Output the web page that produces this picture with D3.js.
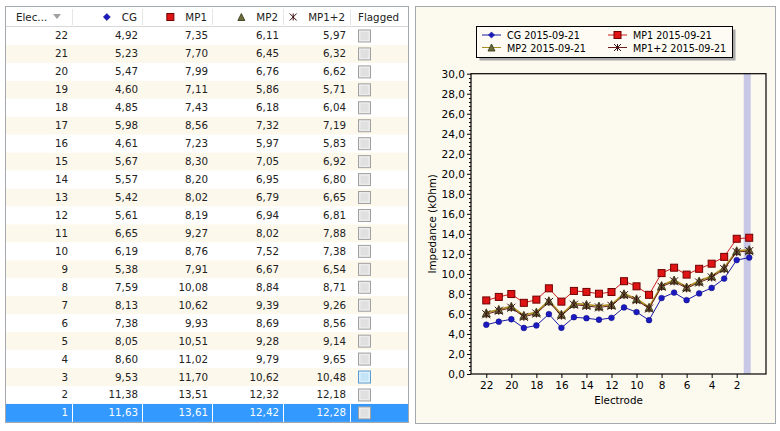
<!DOCTYPE html>
<html><head><meta charset="utf-8">
<script src="https://cdn.jsdelivr.net/npm/d3@7/dist/d3.min.js"></script>
<style>
html,body{margin:0;padding:0;background:#fff;}
text{font-family:"DejaVu Sans",sans-serif;font-size:10.3px;}
</style></head>
<body><svg id="c" width="780" height="431"></svg>
<script>
const electrodes = [22,21,20,19,18,17,16,15,14,13,12,11,10,9,8,7,6,5,4,3,2,1];
const cg   = [4.92,5.23,5.47,4.60,4.85,5.98,4.61,5.67,5.57,5.42,5.61,6.65,6.19,5.38,7.59,8.13,7.38,8.05,8.60,9.53,11.38,11.63];
const mp1  = [7.35,7.70,7.99,7.11,7.43,8.56,7.23,8.30,8.20,8.02,8.19,9.27,8.76,7.91,10.08,10.62,9.93,10.51,11.02,11.70,13.51,13.61];
const mp2  = [6.11,6.45,6.76,5.86,6.18,7.32,5.97,7.05,6.95,6.79,6.94,8.02,7.52,6.67,8.84,9.39,8.69,9.28,9.79,10.62,12.32,12.42];
const mp12 = [5.97,6.32,6.62,5.71,6.04,7.19,5.83,6.92,6.80,6.65,6.81,7.88,7.38,6.54,8.71,9.26,8.56,9.14,9.65,10.48,12.18,12.28];
const columns = ["Elec...","CG","MP1","MP2","MP1+2","Flagged"];
const legendLabels = ["CG 2015-09-21","MP1 2015-09-21","MP2 2015-09-21","MP1+2 2015-09-21"];
const xTicks = [22,20,18,16,14,12,10,8,6,4,2];
const yTicks = [0,2,4,6,8,10,12,14,16,18,20,22,24,26,28,30];
const selectedElectrode = 1;
const hoverCheckElectrode = 3;

const svg = d3.select("#c");
const fmt = v => v.toFixed(2).replace(".", ",");
const fmt1 = v => v.toFixed(1).replace(".", ",");

const series = [
  {key:"CG", vals:cg, line:"#1a1aa6", fill:"#1a1ac0", stroke:"#10107a", shape:"circle"},
  {key:"MP1", vals:mp1, line:"#cc1c1c", fill:"#e01414", stroke:"#700000", shape:"square"},
  {key:"MP2", vals:mp2, line:"#a89020", fill:"#6e6e3c", stroke:"#2e2e10", shape:"triangle"},
  {key:"MP1+2", vals:mp12, line:"#6a1e1e", fill:"none", stroke:"#3a1010", shape:"x"}
];

function marker(g, shape, s, fill, stroke) {
  if (shape === "circle") g.append("circle").attr("r", s*0.45).attr("fill", fill).attr("stroke", stroke).attr("stroke-width", 0.5);
  else if (shape === "diamond") g.append("path").attr("d", d3.symbol(d3.symbolDiamond2, s*s*0.5)()).attr("fill", fill).attr("stroke", stroke).attr("stroke-width",0.5);
  else if (shape === "square") g.append("rect").attr("x", -s/2).attr("y", -s/2).attr("width", s).attr("height", s).attr("fill", fill).attr("stroke", stroke).attr("stroke-width", 1);
  else if (shape === "triangle") g.append("path").attr("d", `M0,${-s/2}L${s/2},${s/2}L${-s/2},${s/2}Z`).attr("fill", fill).attr("stroke", stroke).attr("stroke-width", 0.8);
  else if (shape === "x") g.append("path").attr("d", `M${-s/2},${-s/2}L${s/2},${s/2}M${s/2},${-s/2}L${-s/2},${s/2}M0,${-s/2}L0,${s/2}`).attr("fill","none").attr("stroke", stroke).attr("stroke-width", 1);
}

// ---------------- TABLE ----------------
const colRight = [72,142,212,283,350,408];
const tTop = 7, headH = 20, rowH = 17.95;
const tbl = svg.append("g");
tbl.append("rect").attr("x",5.5).attr("y",6.5).attr("width",403).attr("height",416).attr("fill","#fff").attr("stroke","#a4a9b0");
tbl.append("line").attr("x1",6).attr("x2",408).attr("y1",tTop+headH-0.5).attr("y2",tTop+headH-0.5).attr("stroke","#d8d8d8");
colRight.slice(0,-1).forEach(x=>{
  tbl.append("line").attr("x1",x+0.5).attr("x2",x+0.5).attr("y1",tTop+2).attr("y2",tTop+headH-2).attr("stroke","#e6e6e6");
});
const hy = tTop + headH/2 + 3.5;
tbl.append("text").attr("x",16).attr("y",hy).attr("fill","#222").text(columns[0]);
tbl.append("path").attr("d","M53,14L61,14L57,19Z").attr("fill","#a0a0a0");
series.forEach((s,i)=>{
  const right = colRight[i+1]-5;
  const t = tbl.append("text").attr("x",right).attr("y",hy).attr("text-anchor","end").attr("fill","#222").text(s.key);
  const w = t.node().getComputedTextLength();
  const mg = tbl.append("g").attr("transform",`translate(${right - w - 15},${tTop+headH/2})`);
  if (s.shape==="circle") marker(mg,"diamond",8,s.fill,s.stroke);
  else marker(mg,s.shape,7,s.shape==="x"?"none":s.fill,s.shape==="x"?"#3a1010":s.stroke);
});
tbl.append("text").attr("x",358).attr("y",hy).attr("fill","#222").text(columns[5]);

const vals = [electrodes, cg, mp1, mp2, mp12];
electrodes.forEach((e,i)=>{
  const y0 = tTop + headH + i*rowH;
  const sel = e === selectedElectrode;
  tbl.append("rect").attr("x",6).attr("y",y0).attr("width",402).attr("height",rowH)
     .attr("fill", sel ? "#3399ff" : (i%2 ? "#fdf8ec" : "#ffffff"));
  if (sel) colRight.slice(0,-1).forEach(x=>{
    tbl.append("line").attr("x1",x+0.5).attr("x2",x+0.5).attr("y1",y0).attr("y2",y0+rowH).attr("stroke","#ffffff");
  });
  vals.forEach((arr,c)=>{
    tbl.append("text").attr("x",colRight[c]-4).attr("y",y0+rowH/2+3.5).attr("text-anchor","end")
      .attr("fill", sel ? "#ffffff" : "#222").text(c===0 ? arr[i] : fmt(arr[i]));
  });
  const hov = e === hoverCheckElectrode;
  tbl.append("rect").attr("x",358.5).attr("y",y0+rowH/2-6).attr("width",12).attr("height",12)
    .attr("fill", hov ? "#dcf0fc" : "#ececec").attr("stroke", hov ? "#5b9bd0" : "#a0a0a0");
  tbl.append("rect").attr("x",360.5).attr("y",y0+rowH/2-4).attr("width",8).attr("height",8)
    .attr("fill", hov ? "#c4e4f8" : "#e0e0e0");
});

// ---------------- CHART ----------------
const ch = svg.append("g");
ch.append("rect").attr("x",415.5).attr("y",6.5).attr("width",360).attr("height",417).attr("fill","#fcf9ef").attr("stroke","#a4a9b0");
const plot = {l:471, r:766, t:73.7, b:374};
const x = d3.scaleLinear().domain([23.22,-0.34]).range([plot.l, plot.r]);
const y = d3.scaleLinear().domain([0,30]).range([plot.b, plot.t]);

ch.append("rect").attr("x",x(selectedElectrode)-5.5).attr("y",plot.t).attr("width",7).attr("height",plot.b-plot.t).attr("fill","#c8c8e6");
ch.append("rect").attr("x",plot.l).attr("y",plot.t).attr("width",plot.r-plot.l).attr("height",plot.b-plot.t).attr("fill","none").attr("stroke","#000").attr("stroke-width",1.2);

const yAx = ch.append("g").attr("transform",`translate(${plot.l},0)`)
  .call(d3.axisLeft(y).tickValues(yTicks).tickFormat(fmt1).tickSize(4).tickPadding(2));
yAx.select(".domain").remove();
yAx.selectAll("text").attr("fill","#000").style("font-size","10.5px");
const minor = d3.range(0,30.001,0.4).filter(v=>Math.abs(v/2-Math.round(v/2))>1e-6);
ch.append("g").selectAll("line").data(minor).join("line")
  .attr("x1",plot.l-2).attr("x2",plot.l).attr("y1",d=>Math.round(y(d))+0.5).attr("y2",d=>Math.round(y(d))+0.5).attr("stroke","#000");

const xAx = ch.append("g").attr("transform",`translate(0,${plot.b})`)
  .call(d3.axisBottom(x).tickValues(xTicks).tickFormat(d=>d).tickSize(4).tickPadding(4));
xAx.select(".domain").remove();
xAx.selectAll("text").attr("fill","#000").style("font-size","10.5px");

ch.append("text").attr("x",(plot.l+plot.r)/2).attr("y",404).attr("text-anchor","middle").text("Electrode");
ch.append("text").attr("transform",`translate(436,${(plot.t+plot.b)/2}) rotate(-90)`).attr("text-anchor","middle").text("Impedance (kOhm)");

series.forEach(s=>{
  const line = d3.line().x((d,i)=>x(electrodes[i])).y(d=>y(d));
  ch.append("path").attr("d",line(s.vals)).attr("fill","none").attr("stroke",s.line).attr("stroke-width", s.key==="MP2"?1.6:1);
});
series.forEach(s=>{
  s.vals.forEach((v,i)=>{
    const g = ch.append("g").attr("transform",`translate(${x(electrodes[i])},${y(v)})`);
    const sz = s.shape==="circle"?6.4 : s.shape==="square"?7 : 8;
    marker(g, s.shape, sz, s.fill, s.stroke);
  });
});

const lg = ch.append("g");
lg.append("rect").attr("x",479.5).attr("y",29.5).attr("width",256).attr("height",31).attr("fill","#a8a8a8");
lg.append("rect").attr("x",476.5).attr("y",26.5).attr("width",256).attr("height",31).attr("fill","#fdfbf3").attr("stroke","#000");
const lpos = [[482,35],[608,35],[482,47.5],[608,47.5]];
[0,1,2,3].forEach(k=>{
  const s = series[k], [lx,ly] = lpos[k];
  lg.append("line").attr("x1",lx).attr("x2",lx+19).attr("y1",ly).attr("y2",ly).attr("stroke",s.line).attr("stroke-width",1);
  const g = lg.append("g").attr("transform",`translate(${lx+9.5},${ly})`);
  marker(g, s.shape==="circle"?"diamond":s.shape, 7, s.fill, s.stroke);
  lg.append("text").attr("x",lx+25).attr("y",ly+4).attr("fill","#000").style("font-size","9.6px").text(legendLabels[k]);
});
</script></body></html>
